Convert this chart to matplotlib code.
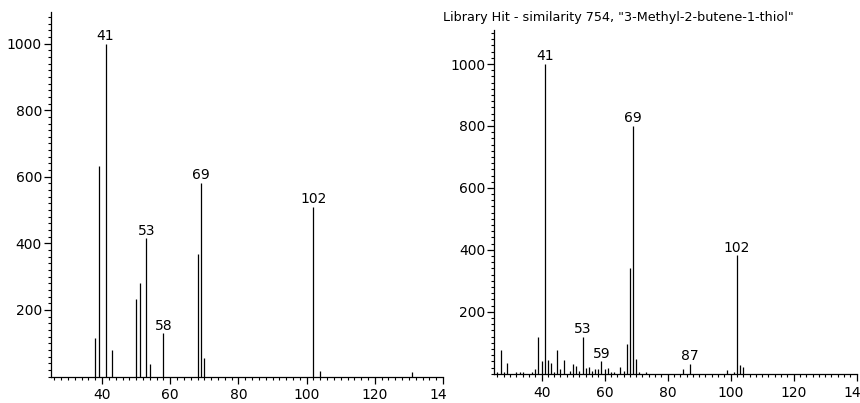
import matplotlib
matplotlib.use("Agg")
import matplotlib.pyplot as plt
from matplotlib.ticker import MultipleLocator, FixedLocator
from matplotlib.transforms import Bbox, TransformedBbox

# ---- data ----
sample_mz = [38, 39, 41, 43, 50, 51, 53, 54, 58, 68, 69, 70, 102, 104, 131]
sample_int = [115, 632, 1000, 80, 232, 280, 415, 38, 130, 367, 582, 57, 510, 17, 15]
sample_labels = [41, 53, 58, 69, 102]

lib_mz = [26, 27, 28, 29, 32, 33, 34, 37, 38, 39, 40, 41, 42, 43, 44, 45, 46, 47,
          49, 50, 51, 52, 53, 54, 55, 56, 57, 58, 59, 60, 61, 62, 63, 65, 66, 67,
          68, 69, 70, 71, 73, 85, 87, 99, 101, 102, 103, 104]
lib_int = [7, 75, 7, 36, 4, 7, 7, 7, 14, 118, 42, 1000, 45, 36, 5, 75, 14, 45,
           9, 30, 25, 10, 118, 20, 23, 10, 15, 16, 40, 14, 17, 6, 6, 22, 9, 96,
           340, 800, 48, 6, 5, 14, 32, 11, 6, 382, 29, 22]
lib_labels = [41, 53, 59, 69, 87, 102]

title_text = 'Library Hit - similarity 754, "3-Methyl-2-butene-1-thiol"'
x_major = [40, 60, 80, 100, 120, 140]
y_major = [200, 400, 600, 800, 1000]

plt.rcParams['font.family'] = ['DejaVu Sans']
FS = 10
FS_TITLE = 9.2

W, H = 860, 403
fig = plt.figure(figsize=(W / 100, H / 100), dpi=100)
fig.patch.set_facecolor("white")


def px_axes(x0, x1, ytop, ybase):
    return fig.add_axes([x0 / W, (H - ybase) / H, (x1 - x0) / W, (ybase - ytop) / H])


ax1 = px_axes(51, 443, 12, 376.5)
ax2 = px_axes(494.3, 856.7, 30, 373.7)


def style(ax, mz, inten, labels, ytop, clip_right=None):
    ax.vlines(mz, 0, inten, colors="black", linewidth=0.9)
    ax.set_xlim(25, 140)
    ax.set_ylim(0, ytop)
    for s in ("top", "right"):
        ax.spines[s].set_visible(False)
    for s in ("left", "bottom"):
        ax.spines[s].set_linewidth(0.9)
    ax.xaxis.set_major_locator(FixedLocator(x_major))
    ax.xaxis.set_minor_locator(MultipleLocator(2))
    ax.yaxis.set_major_locator(FixedLocator(y_major))
    ax.yaxis.set_minor_locator(MultipleLocator(20))
    ax.tick_params(axis="both", which="major", direction="out", length=5,
                   width=0.9, labelsize=FS, pad=1.5)
    ax.tick_params(axis="both", which="minor", direction="out", length=2.5,
                   width=0.8)
    ax.tick_params(axis="x", which="major", pad=3.5)
    ax.set_facecolor("white")
    lookup = dict(zip(mz, inten))
    for m in labels:
        ax.annotate(str(m), (m, lookup[m]), xytext=(0, 0.5), textcoords="offset points",
                    ha="center", va="bottom", fontsize=FS)
    if clip_right is not None:
        cb = TransformedBbox(Bbox([[0, 0], [clip_right / W, 1]]), fig.transFigure)
        for lab in ax.get_xticklabels():
            lab.set_clip_on(True)
            lab.set_clip_box(cb)


style(ax1, sample_mz, sample_int, sample_labels, 1095, clip_right=446)
style(ax2, lib_mz, lib_int, lib_labels, 1110)

fig.text(443 / W, 1 - 18 / H, title_text, ha="left", va="center", fontsize=FS_TITLE)

fig.savefig("out.png", dpi=100, facecolor="white")
